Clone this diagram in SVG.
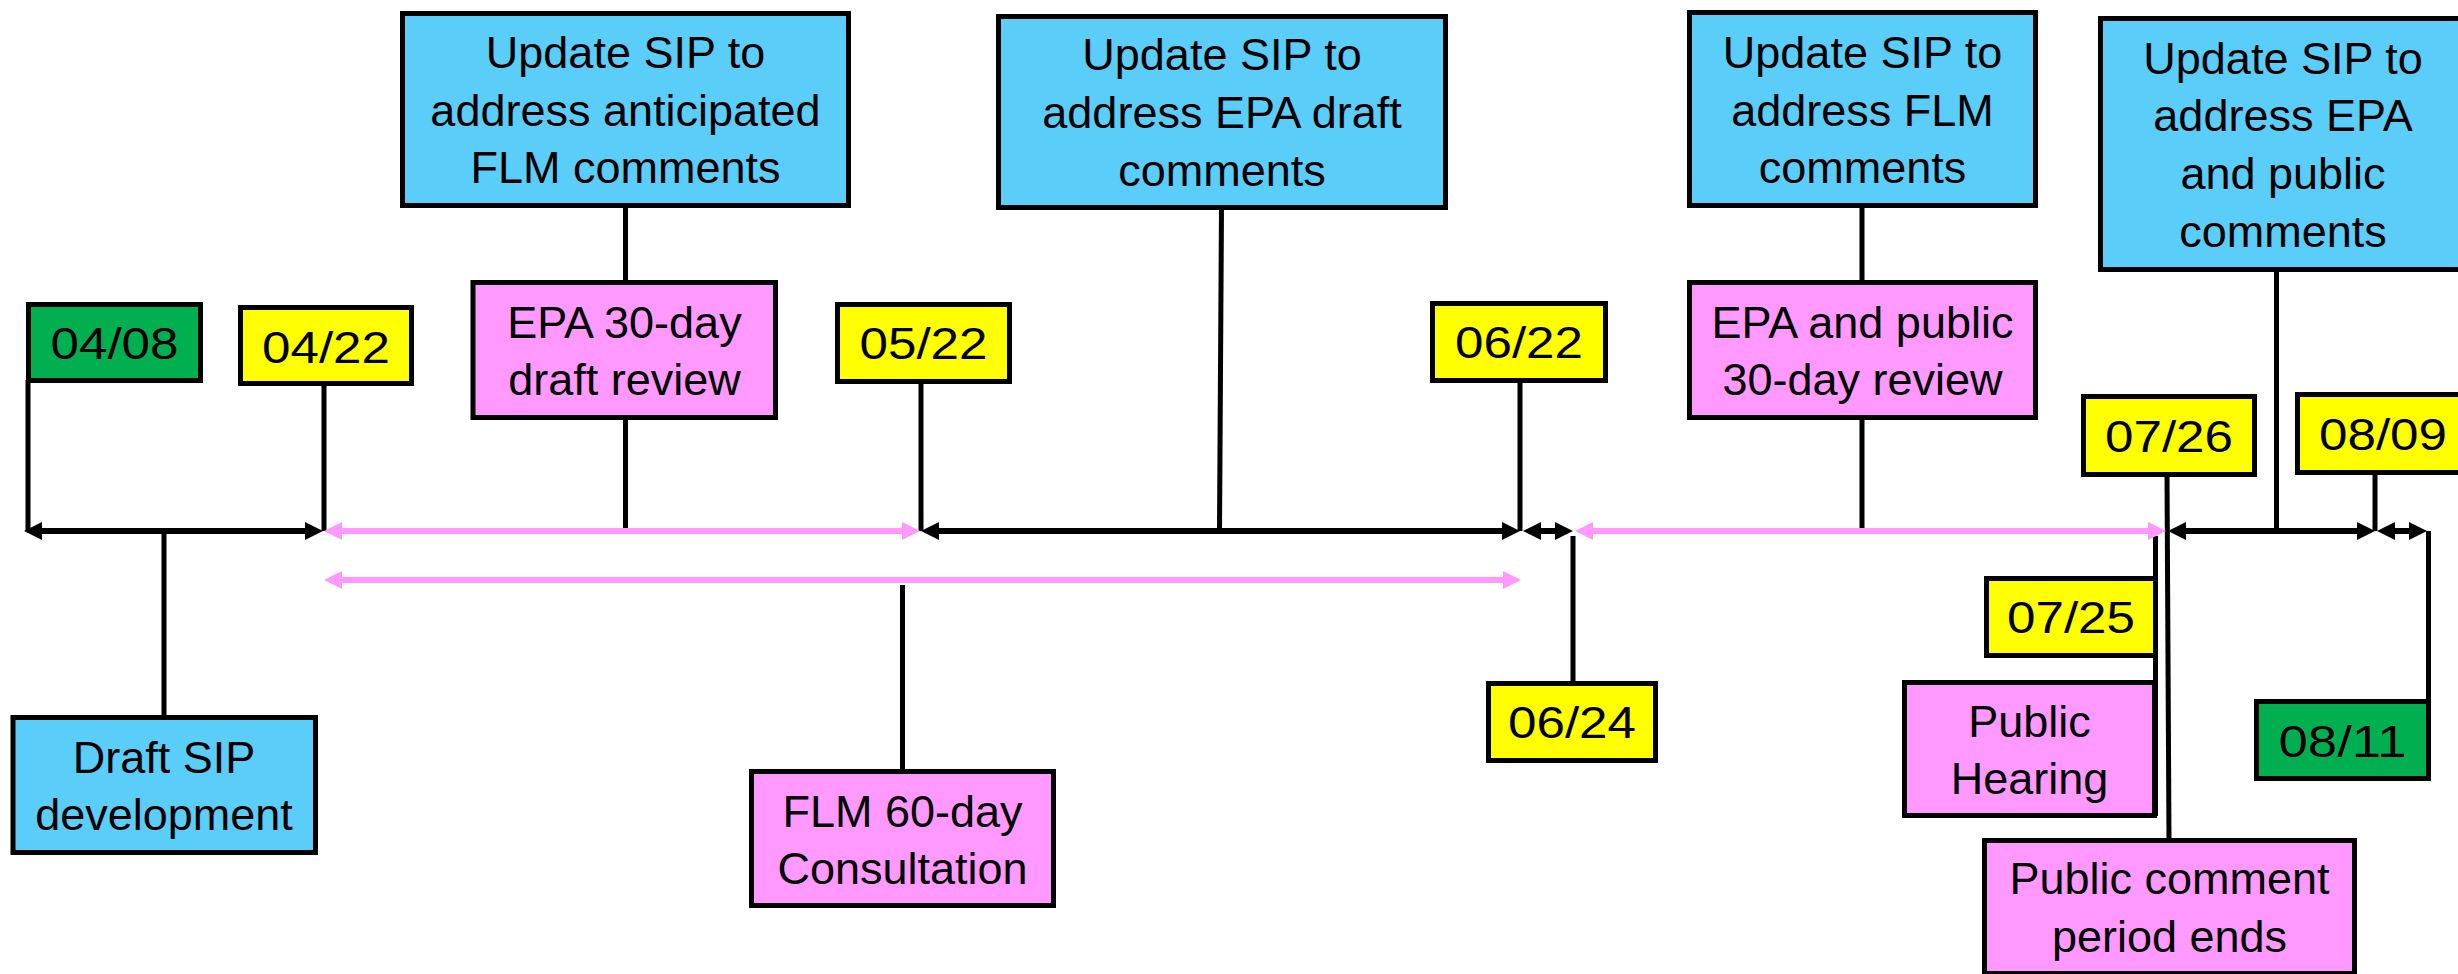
<svg xmlns="http://www.w3.org/2000/svg" width="2458" height="974" viewBox="0 0 2458 974">
<style>
.box{stroke:#000;stroke-width:5;stroke-linejoin:miter}
.blue{fill:#5BCDF9}
.pink{fill:#FF99FF}
.yel{fill:#FFFF00}
.grn{fill:#00B050}
text{font-family:"Liberation Sans",Arial,sans-serif;font-size:45px;fill:#000;text-anchor:middle}
.conn{stroke:#000;stroke-width:5;fill:none}
.tl{stroke:#000;stroke-width:6;fill:none;marker-start:url(#ab);marker-end:url(#ab)}
.tlp{stroke:#FF99FF;stroke-width:6;fill:none;marker-start:url(#ap);marker-end:url(#ap)}
</style>
<defs>
<marker id="ab" markerUnits="userSpaceOnUse" markerWidth="18" markerHeight="18" refX="8" refY="9" orient="auto-start-reverse" viewBox="0 0 18 18">
<path d="M0,0 L18,9 L0,18 z" fill="#000"/>
</marker>
<marker id="ap" markerUnits="userSpaceOnUse" markerWidth="18" markerHeight="18" refX="8" refY="9" orient="auto-start-reverse" viewBox="0 0 18 18">
<path d="M0,0 L18,9 L0,18 z" fill="#FF99FF"/>
</marker>
</defs>
<rect width="2458" height="974" fill="#fff"/>
<g id="connectors">
<line class="conn" x1="28" y1="380" x2="28" y2="531"/>
<line class="conn" x1="324" y1="384" x2="324" y2="531"/>
<line class="conn" x1="164" y1="531" x2="164" y2="718"/>
<line class="conn" x1="625.5" y1="205" x2="625.5" y2="531"/>
<line class="conn" x1="902.5" y1="585" x2="902.5" y2="772"/>
<line class="conn" x1="921" y1="382" x2="921" y2="531"/>
<line class="conn" x1="1221.5" y1="207" x2="1219.5" y2="531"/>
<line class="conn" x1="1520" y1="381" x2="1520" y2="531"/>
<line class="conn" x1="1573" y1="536" x2="1573" y2="684"/>
<line class="conn" x1="1862" y1="205" x2="1862" y2="531"/>
<line class="conn" x1="2167" y1="475" x2="2169" y2="841"/>
<line class="conn" x1="2155.5" y1="536" x2="2155.5" y2="816"/>
<line class="conn" x1="2276.5" y1="269" x2="2276.5" y2="531"/>
<line class="conn" x1="2375" y1="473" x2="2375" y2="531"/>
<line class="conn" x1="2428.5" y1="531" x2="2428.5" y2="704"/>
<line class="tl" x1="34" y1="531" x2="313" y2="531"/>
<line class="tlp" x1="334" y1="531" x2="910" y2="531"/>
<line class="tl" x1="931" y1="531" x2="1510" y2="531"/>
<line class="tl" x1="1533" y1="531" x2="1563" y2="531"/>
<line class="tlp" x1="1585" y1="531" x2="2156" y2="531"/>
<line class="tl" x1="2178" y1="531" x2="2365" y2="531"/>
<line class="tl" x1="2387" y1="531" x2="2417" y2="531"/>
<line class="tlp" x1="334" y1="580" x2="1511" y2="580"/>
</g>
<g id="n-anticipated">
<rect class="box blue" x="402.5" y="13.5" width="446" height="192"/>
<text x="625.5" y="68">Update SIP to</text>
<text x="625.5" y="125.5">address anticipated</text>
<text x="625.5" y="183">FLM comments</text>
</g>
<g id="n-epa-draft">
<rect class="box blue" x="998.5" y="16.5" width="447" height="191"/>
<text x="1222" y="70">Update SIP to</text>
<text x="1222" y="128">address EPA draft</text>
<text x="1222" y="186">comments</text>
</g>
<g id="n-flm-comments">
<rect class="box blue" x="1689.5" y="12.5" width="346" height="193"/>
<text x="1862.5" y="68">Update SIP to</text>
<text x="1862.5" y="125.5">address FLM</text>
<text x="1862.5" y="183">comments</text>
</g>
<g id="n-epa-public-comments">
<rect class="box blue" x="2100.5" y="18.5" width="364" height="251"/>
<text x="2283" y="74">Update SIP to</text>
<text x="2283" y="131">address EPA</text>
<text x="2283" y="189">and public</text>
<text x="2283" y="247">comments</text>
</g>
<g id="n-draft-sip">
<rect class="box blue" x="13" y="717.5" width="302.5" height="135"/>
<text x="164" y="773">Draft SIP</text>
<text x="164" y="830">development</text>
</g>
<g id="n-epa-30">
<rect class="box pink" x="473" y="282.5" width="302.5" height="135"/>
<text x="624.5" y="337.5">EPA 30-day</text>
<text x="624.5" y="394.5">draft review</text>
</g>
<g id="n-flm-60">
<rect class="box pink" x="751.5" y="771.5" width="302" height="134"/>
<text x="902.5" y="827">FLM 60-day</text>
<text x="902.5" y="884">Consultation</text>
</g>
<g id="n-epa-public-30">
<rect class="box pink" x="1689.5" y="282.5" width="346" height="135"/>
<text x="1862.5" y="337.5">EPA and public</text>
<text x="1862.5" y="394.5">30-day review</text>
</g>
<g id="n-hearing">
<rect class="box pink" x="1904.5" y="682.5" width="250" height="133"/>
<text x="2029.5" y="737">Public</text>
<text x="2029.5" y="794">Hearing</text>
</g>
<g id="n-comment-ends">
<rect class="box pink" x="1984.5" y="840.5" width="370" height="133"/>
<text x="2169.5" y="894">Public comment</text>
<text x="2169.5" y="952">period ends</text>
</g>
<g id="d-0408">
<rect class="box grn" x="28.5" y="304.5" width="172" height="76"/>
<text x="114.5" y="358.5" textLength="128" lengthAdjust="spacingAndGlyphs">04/08</text>
</g>
<g id="d-0422">
<rect class="box yel" x="240.5" y="307.5" width="171" height="76"/>
<text x="326" y="362.5" textLength="128" lengthAdjust="spacingAndGlyphs">04/22</text>
</g>
<g id="d-0522">
<rect class="box yel" x="837.5" y="304.5" width="172" height="77"/>
<text x="923.5" y="359" textLength="128" lengthAdjust="spacingAndGlyphs">05/22</text>
</g>
<g id="d-0622">
<rect class="box yel" x="1432.5" y="303.5" width="173" height="77"/>
<text x="1519" y="358" textLength="128" lengthAdjust="spacingAndGlyphs">06/22</text>
</g>
<g id="d-0624">
<rect class="box yel" x="1488.5" y="683.5" width="167" height="77"/>
<text x="1572" y="738" textLength="128" lengthAdjust="spacingAndGlyphs">06/24</text>
</g>
<g id="d-0726">
<rect class="box yel" x="2083.5" y="396.5" width="171" height="78"/>
<text x="2169" y="451.5" textLength="128" lengthAdjust="spacingAndGlyphs">07/26</text>
</g>
<g id="d-0725">
<rect class="box yel" x="1986.5" y="578.5" width="169" height="77"/>
<text x="2071" y="633" textLength="128" lengthAdjust="spacingAndGlyphs">07/25</text>
</g>
<g id="d-0809">
<rect class="box yel" x="2297.5" y="394.5" width="172" height="78"/>
<text x="2383" y="450" textLength="128" lengthAdjust="spacingAndGlyphs">08/09</text>
</g>
<g id="d-0811">
<rect class="box grn" x="2256.5" y="701.5" width="172" height="77"/>
<text x="2342.5" y="756.5" textLength="128" lengthAdjust="spacingAndGlyphs">08/11</text>
</g>
</svg>
